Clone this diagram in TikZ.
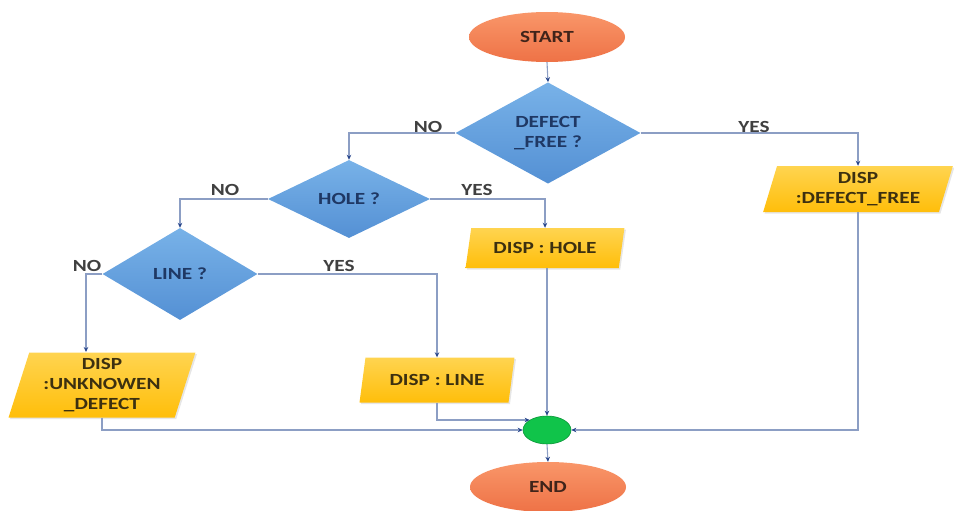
\documentclass[tikz,border=0pt]{standalone}
\usepackage{fontspec}
\setmainfont{Carlito}[FakeStretch=1.25]
\usetikzlibrary{shapes.geometric,arrows.meta,shadows}
\definecolor{linec}{RGB}{140,158,196}
\definecolor{tipc}{RGB}{40,70,140}
\definecolor{blueA}{RGB}{120,178,232}
\definecolor{blueB}{RGB}{84,144,212}
\definecolor{navyT}{RGB}{31,56,100}
\definecolor{goldA}{RGB}{255,212,80}
\definecolor{goldB}{RGB}{255,190,10}
\definecolor{ioT}{RGB}{60,48,16}
\definecolor{orA}{RGB}{249,150,105}
\definecolor{orB}{RGB}{238,114,70}
\definecolor{termT}{RGB}{64,36,26}
\definecolor{greenF}{RGB}{16,196,74}
\definecolor{greenD}{RGB}{10,150,56}
\definecolor{labT}{RGB}{64,64,64}
\begin{document}
\begin{tikzpicture}[x=1pt,y=-1pt,
  font=\fontsize{17}{20}\selectfont\bfseries,
  decision/.style={diamond, inner sep=0pt, top color=blueA, bottom color=blueB, draw=none, text=navyT, align=center},
  iobox/.style={trapezium, trapezium left angle=73, trapezium right angle=107, trapezium stretches=true, inner sep=1pt, top color=goldA, bottom color=goldB, text=ioT, align=center, drop shadow={shadow xshift=1.5pt, shadow yshift=-1.5pt, opacity=0.2}},
  term/.style={ellipse, inner sep=0pt, top color=orA, bottom color=orB, text=termT, minimum width=156pt, minimum height=50pt},
  cline/.style={draw=linec, line width=1.1pt, -{Stealth[length=5pt,width=4.5pt,color=tipc]}},
  lab/.style={text=labT, inner sep=0pt}]
\useasboundingbox (0,0) rectangle (954,511);

\node[term] (start) at (547,37) {START};
\node[decision, minimum width=185pt, minimum height=96pt] (df) at (548,133) {DEFECT\\\_FREE ?};
\node[decision, minimum width=162pt, minimum height=78pt] (hole) at (349,199) {HOLE ?};
\node[decision, minimum width=155pt, minimum height=92pt] (line) at (180,274) {LINE ?};
\node[iobox, minimum width=190pt, minimum height=46pt] (dispdf) at (858,189) {DISP\\:DEFECT\_FREE};
\node[iobox, minimum width=159pt, minimum height=40pt] (disphole) at (545,248) {DISP : HOLE};
\node[iobox, minimum width=187pt, minimum height=65pt] (unk) at (102,385) {DISP\\:UNKNOWEN\\\_DEFECT};
\node[iobox, minimum width=155pt, minimum height=45pt] (displine) at (437,380) {DISP : LINE};
\node[ellipse, fill=greenF, draw=greenD, line width=0.6pt, minimum width=48pt, minimum height=28pt, inner sep=0pt] (merge) at (547,430) {};
\node[term] (end) at (548,487) {END};

\coordinate (unkin) at (86,352);

\node[lab] (no1) at (428,127) {NO};
\node[lab] (yes1) at (754,127) {YES};
\node[lab] (no2) at (225,190) {NO};
\node[lab] (yes2) at (477,190) {YES};
\node[lab] (no3) at (87,266) {NO};
\node[lab] (yes3) at (339,266) {YES};

\draw[cline] (start.south) -- (df.north);
\draw[cline] (df.west) -| (hole.north);
\draw[cline] (df.east) -| (dispdf.north);
\draw[cline] (hole.west) -| (line.north);
\draw[cline] (hole.east) -| (disphole.north);
\draw[cline] (line.west) -| (unkin);
\draw[cline] (line.east) -| (displine.north);
\draw[cline] (disphole.south -| merge.north) -- (merge.north);
\draw[cline] (displine.south) |- (merge.150);
\draw[cline] (unk.south) |- (merge.west);
\draw[cline] (dispdf.south) |- (merge.east);
\draw[cline] (merge.south) -- (end.north);
\end{tikzpicture}
\end{document}
